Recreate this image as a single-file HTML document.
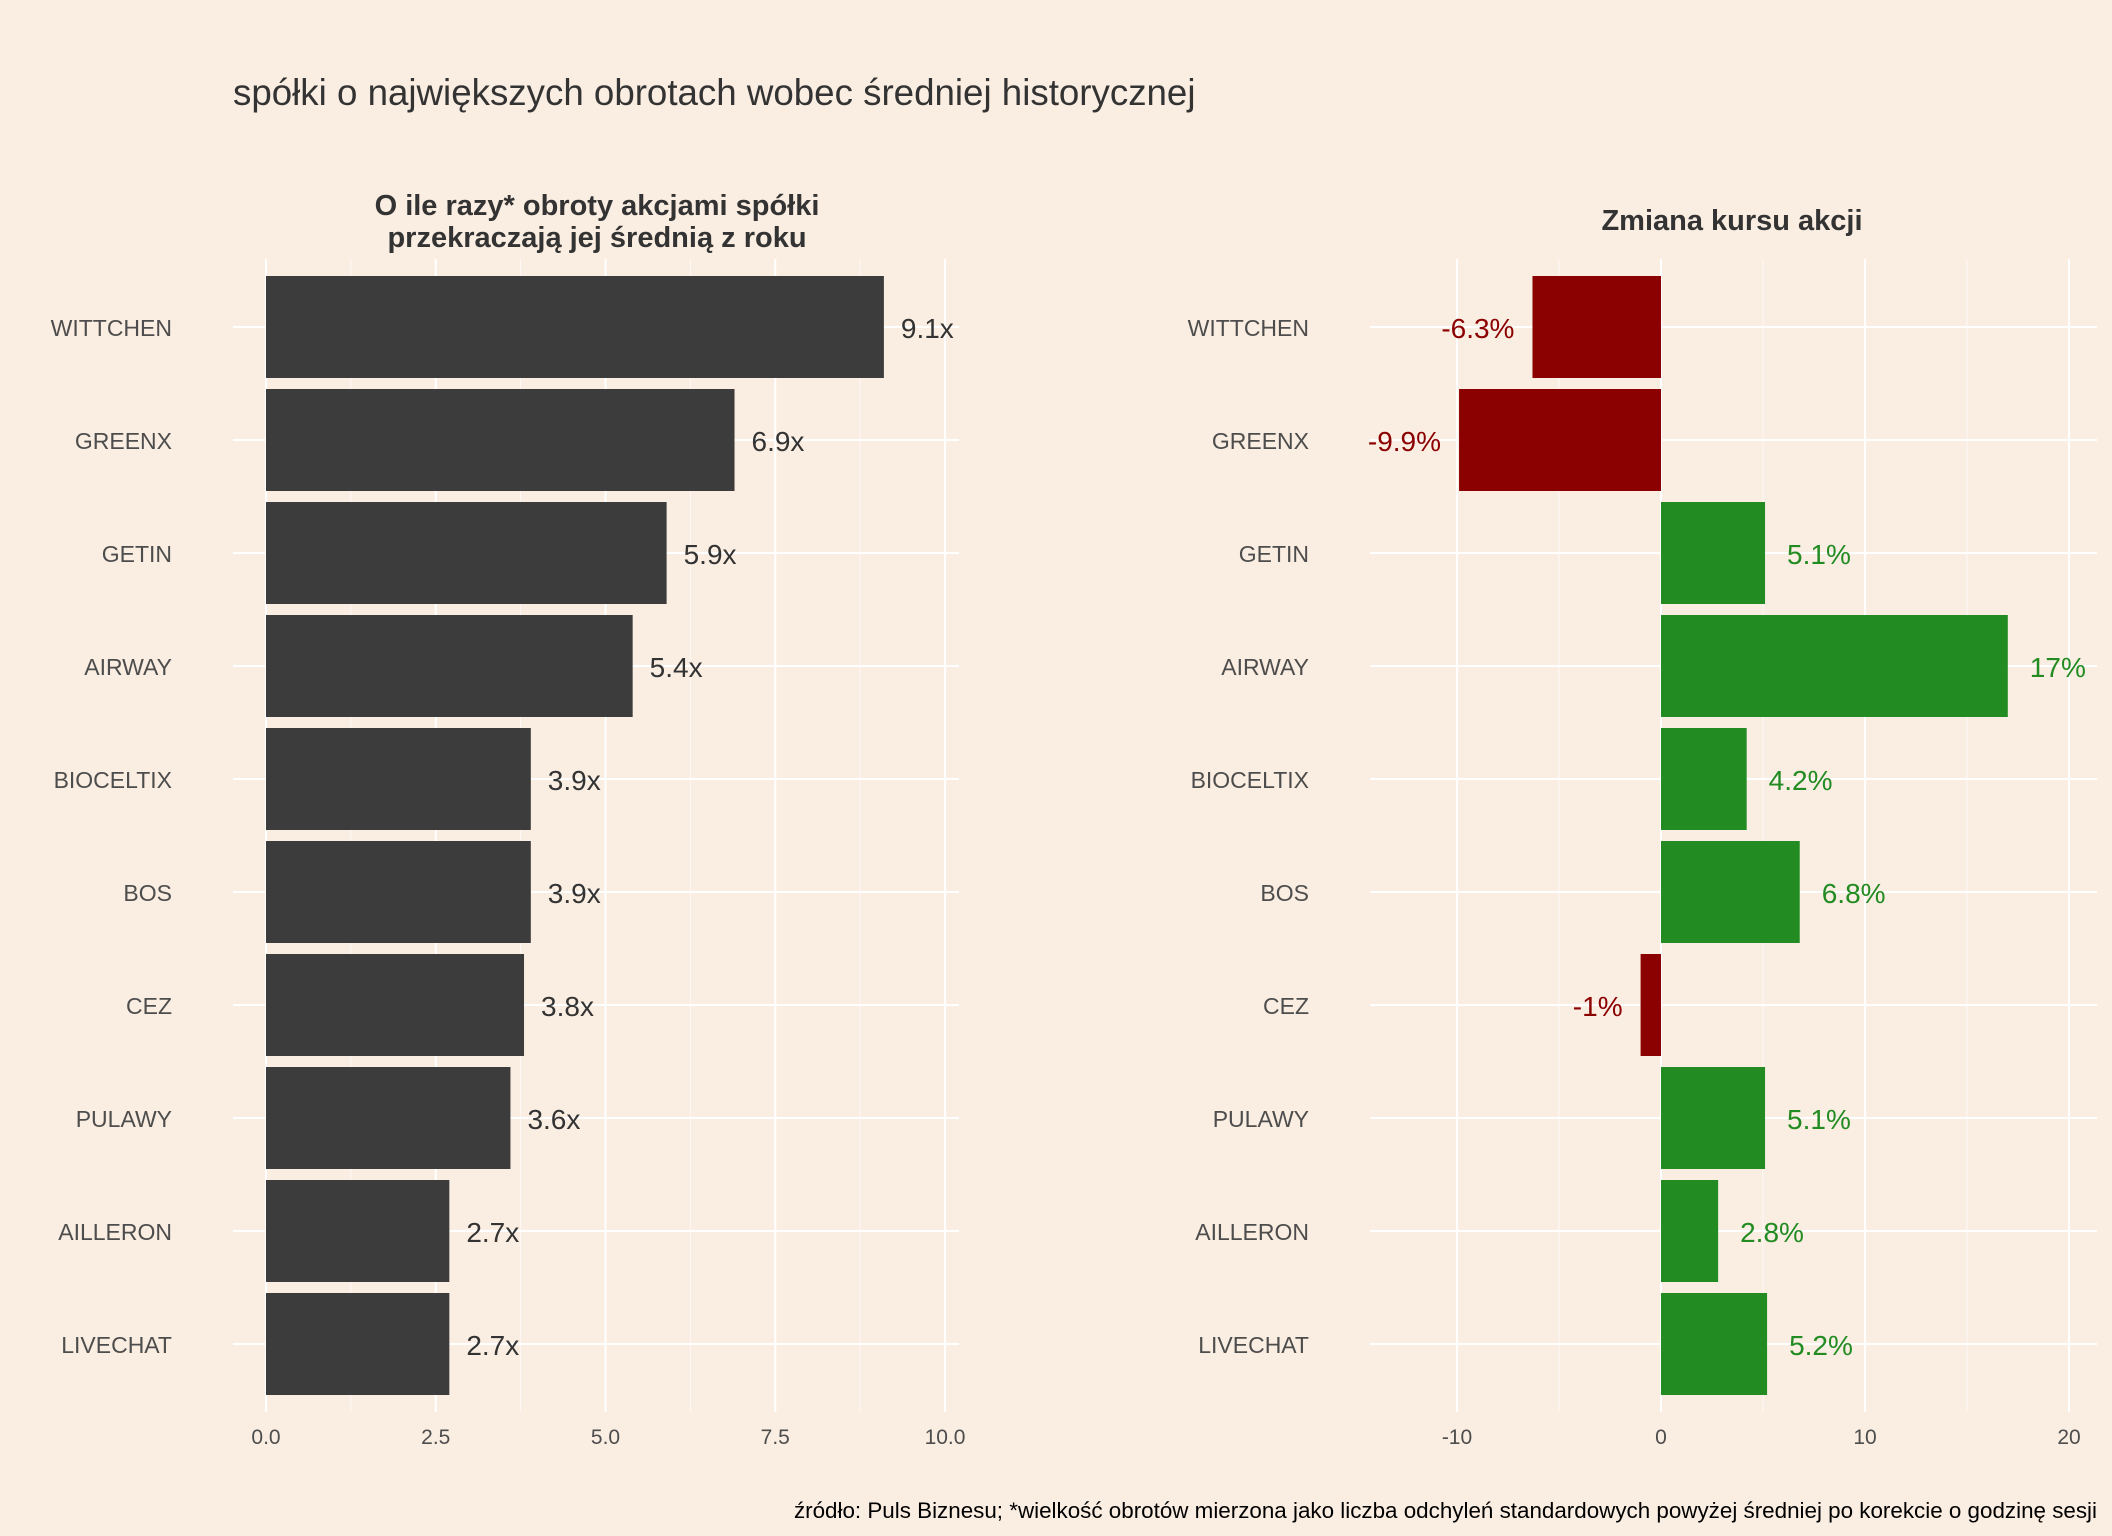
<!DOCTYPE html>
<html><head><meta charset="utf-8"><style>
html,body{margin:0;padding:0;background:#FAEDE1;}
svg{display:block;font-family:"Liberation Sans",sans-serif;}
</style></head><body>
<svg id="c" width="2112" height="1536" xmlns="http://www.w3.org/2000/svg">
<rect width="2112" height="1536" fill="#FAEDE1"/>
<text x="233" y="105" font-size="36.7" fill="#333">spółki o największych obrotach wobec średniej historycznej</text>
<text x="597" y="215" font-size="29" font-weight="bold" fill="#333" text-anchor="middle"><tspan x="597">O ile razy* obroty akcjami spółki</tspan><tspan x="597" dy="32">przekraczają jej średnią z roku</tspan></text>
<text x="1732" y="230" font-size="29" font-weight="bold" fill="#333" text-anchor="middle">Zmiana kursu akcji</text>
<text x="2097" y="1518" font-size="22.4" fill="#000" text-anchor="end">źródło: Puls Biznesu; *wielkość obrotów mierzona jako liczba odchyleń standardowych powyżej średniej po korekcie o godzinę sesji</text>
<g id="left"></g>
<g id="right"></g>
</svg>
<script>
const companies = ["WITTCHEN","GREENX","GETIN","AIRWAY","BIOCELTIX","BOS","CEZ","PULAWY","AILLERON","LIVECHAT"];
const turnover = [9.1,6.9,5.9,5.4,3.9,3.9,3.8,3.6,2.7,2.7];
const priceChange = [-6.3,-9.9,5.1,17,4.2,6.8,-1,5.1,2.8,5.2];
const priceLabels = ["-6.3%","-9.9%","5.1%","17%","4.2%","6.8%","-1%","5.1%","2.8%","5.2%"];
const leftTicks = [0,2.5,5,7.5,10];
const leftMinor = [1.25,3.75,6.25,8.75];
const rightTicks = [-10,0,10,20];
const rightMinor = [-5,5,15];

const NS="http://www.w3.org/2000/svg";
function mk(parent,tag,attrs){const e=document.createElementNS(NS,tag);for(const k in attrs)e.setAttribute(k,attrs[k]);parent.appendChild(e);return e;}
const yTop=259, yBot=1412;
function yRow(i){return 327+i*113;}
const barH=102;
function xL(v){return 266+v*67.9;}
function xR(v){return 1661+v*20.4;}

function panel(g,xs,gx0,gx1,major,minor,labelX,fmtTick){
  minor.forEach(v=>{const l=mk(g,'line',{x1:xs(v),x2:xs(v),y1:yTop,y2:yBot,stroke:'#fff','stroke-width':1,opacity:0.7});
    
    });
  major.forEach(v=>{const l=mk(g,'line',{x1:xs(v),x2:xs(v),y1:yTop,y2:yBot,stroke:'#fff','stroke-width':2});
    
    
    const t=mk(g,'text',{x:xs(v),y:1444,'font-size':21,fill:'#4d4d4d','text-anchor':'middle'});t.textContent=fmtTick(v);
    
    });
  companies.forEach((c,i)=>{const l=mk(g,'line',{x1:gx0,x2:gx1,y1:yRow(i),y2:yRow(i),stroke:'#fff','stroke-width':2});
    
    
    const t=mk(g,'text',{x:labelX,y:yRow(i)+9,'font-size':23,fill:'#4d4d4d','text-anchor':'end'});t.textContent=c;
    
    });
}
const L=document.getElementById('left'), R=document.getElementById('right');
panel(L,xL,233,959,leftTicks,leftMinor,172,v=>v.toFixed(1));
panel(R,xR,1370,2097,rightTicks,rightMinor,1309,v=>String(v));
turnover.forEach((v,i)=>{
  const r=mk(L,'rect',{x:xL(0),y:yRow(i)-barH/2,width:xL(v)-xL(0),height:barH,fill:'#3C3C3C'});
  
  
  const t=mk(L,'text',{x:xL(v)+17,y:yRow(i)+11,'font-size':28,fill:'#333'});t.textContent=v.toFixed(1)+'x';
  
  
});
priceChange.forEach((v,i)=>{
  const col=v<0?'#8B0000':'#228B22';
  const x0=Math.min(xR(0),xR(v)), w=Math.abs(xR(v)-xR(0));
  const r=mk(R,'rect',{x:x0,y:yRow(i)-barH/2,width:w,height:barH,fill:col});
  
  
  const t=mk(R,'text',{x:v<0?xR(v)-18:xR(v)+22,y:yRow(i)+11,'font-size':28,fill:col,'text-anchor':v<0?'end':'start'});
  t.textContent=priceLabels[i];
  
  
});
</script>
</body></html>
